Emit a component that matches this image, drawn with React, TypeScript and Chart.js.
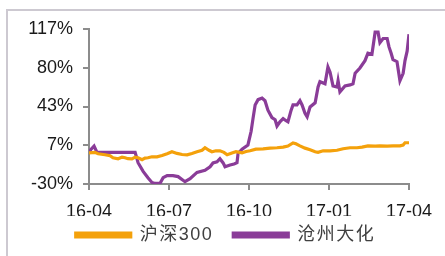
import React, { useEffect, useRef } from "react";
import { Chart, registerables } from "chart.js";

Chart.register(...registerables);

const seriesNames = ["沪深300", "沧州大化"];
const xTickLabels = ["16-04", "16-07", "16-10", "17-01", "17-04"];
const xTickValues = [0, 3, 6, 9, 12];
const yTickLabels = ["-30%", "7%", "43%", "80%", "117%"];
const yTickValues = [-30, 6.75, 43.5, 80.25, 117];

// months since 2016-04
const hs300X = [0, 0.22, 0.34, 0.6, 0.79, 0.9, 1.09, 1.24, 1.35, 1.46, 1.61, 1.73, 1.84, 1.99, 2.1, 2.21, 2.36, 2.55, 2.74, 2.93, 3.11, 3.3, 3.49, 3.68, 3.86, 4.05, 4.24, 4.35, 4.5, 4.61, 4.76, 4.91, 5.06, 5.18, 5.36, 5.51, 5.74, 5.89, 6.04, 6.26, 6.53, 6.79, 7.05, 7.28, 7.46, 7.65, 7.76, 7.91, 8.1, 8.29, 8.48, 8.59, 8.78, 9.04, 9.3, 9.53, 9.79, 10.05, 10.24, 10.46, 10.73, 10.91, 11.18, 11.4, 11.66, 11.78, 11.85, 12.0];
const hs300Y = [-0.4, 0, -1.3, -2.3, -3.2, -5.1, -6.1, -4.5, -5.1, -6, -6.1, -4.5, -5.1, -7, -5.5, -5.1, -4.2, -4.2, -3, -1.3, 0.6, -1, -2, -2.3, -1, 0.6, 2, 4.4, 2, 0.6, 1.5, 1.5, 0, -2.3, -0.5, 0.6, -0.4, 0.8, 1.5, 3, 3.4, 4, 4.4, 5, 6, 9, 8.1, 6.2, 4, 2.5, 0.6, 0, 1.5, 1.5, 2, 3.4, 4.4, 4.4, 5, 6.2, 6, 6.2, 6, 6.2, 6.2, 7, 9.1, 9.1];

const czdhX = [0, 0.08, 0.19, 0.3, 0.41, 0.7, 1.0, 1.3, 1.6, 1.73, 1.84, 2.03, 2.21, 2.36, 2.48, 2.66, 2.78, 2.93, 3.15, 3.34, 3.6, 3.79, 4.05, 4.35, 4.54, 4.65, 4.8, 4.91, 5.03, 5.1, 5.29, 5.44, 5.55, 5.59, 5.74, 5.96, 6.08, 6.15, 6.23, 6.34, 6.49, 6.6, 6.71, 6.86, 6.98, 7.05, 7.16, 7.28, 7.39, 7.46, 7.58, 7.65, 7.8, 7.91, 7.99, 8.1, 8.18, 8.29, 8.48, 8.59, 8.66, 8.85, 8.96, 9.04, 9.15, 9.3, 9.34, 9.41, 9.6, 9.79, 9.9, 9.98, 10.16, 10.35, 10.46, 10.61, 10.73, 10.84, 10.91, 11.03, 11.18, 11.25, 11.33, 11.4, 11.55, 11.66, 11.78, 11.85, 11.93, 12.0];
const czdhY = [0, 3, 6, 0, 0, 0, 0, 0, 0, 0, -9.8, -18, -24, -28.5, -29.5, -29.5, -24, -22, -22, -23, -27.8, -25, -19, -17, -13.6, -10, -9, -6, -10, -13.6, -12, -11, -9.8, -1, 3, 7, 20, 32, 45, 50, 51.5, 49, 40, 33, 31, 25, 29, 32, 30, 29, 40, 45, 45, 49, 45, 37, 33.7, 43, 47, 62, 67, 65, 81, 76, 63, 62, 68, 57.4, 63, 64, 65, 75, 80, 87, 94, 93, 114, 114, 104, 108, 108, 100, 94, 88, 86, 68, 75, 87, 96, 112];

const colors = ["#F4A10B", "#8A3C98"];
const axisColor = "#8c8c8c";
const fontFamily = "'Liberation Sans', Arial, 'Noto Sans CJK SC', sans-serif";
const legendShiftX = 21;
const legendShiftY = -10;

const legendShiftPlugin = {
  id: "legendShift",
  afterLayout(chart: any) {
    const lg = chart.legend;
    if (lg) {
      lg.left += legendShiftX;
      lg.right += legendShiftX;
      lg.top += legendShiftY;
      lg.bottom += legendShiftY;
    }
  },
};

export default function App() {
  const ref = useRef<HTMLCanvasElement>(null);
  useEffect(() => {
    document.body.style.margin = "0";
    const toPts = (xs: number[], ys: number[]) => xs.map((x, i) => ({ x, y: ys[i] }));
    const chart = new Chart(ref.current!, {
      type: "line",
      data: {
        datasets: [
          {
            label: seriesNames[0],
            data: toPts(hs300X, hs300Y),
            borderColor: colors[0],
            backgroundColor: colors[0],
            borderWidth: 3.2,
            pointRadius: 0,
            tension: 0,
          },
          {
            label: seriesNames[1],
            data: toPts(czdhX, czdhY),
            borderColor: colors[1],
            backgroundColor: colors[1],
            borderWidth: 3.2,
            pointRadius: 0,
            tension: 0,
          },
        ],
      },
      plugins: [legendShiftPlugin],
      options: {
        animation: false,
        responsive: false,
        maintainAspectRatio: false,
        layout: { padding: { top: 29, right: 36, left: 0, bottom: 2 } },
        plugins: {
          tooltip: { enabled: false },
          legend: {
            position: "bottom",
            labels: {
              boxWidth: 55,
              boxHeight: 4,
              padding: 20,
              color: "#404040",
              font: { size: 18, family: fontFamily },
            },
          },
        },
        scales: {
          x: {
            type: "linear",
            min: 0,
            max: 12,
            afterBuildTicks: (s: any) => {
              s.ticks = xTickValues.map((v) => ({ value: v }));
            },
            afterFit: (s: any) => {
              s.height = 32;
            },
            ticks: {
              callback: (_v: any, i: number) => xTickLabels[i],
              color: "#1a1a1a",
              font: { size: 18, family: fontFamily },
              padding: 11,
              maxRotation: 0,
            },
            grid: { drawOnChartArea: false, drawTicks: true, tickLength: 6, color: axisColor, lineWidth: 2 },
            border: { display: true, color: axisColor, width: 2 },
          },
          y: {
            min: -30,
            max: 117,
            afterBuildTicks: (s: any) => {
              s.ticks = yTickValues.map((v) => ({ value: v }));
            },
            afterFit: (s: any) => {
              s.width = 89;
            },
            ticks: {
              callback: (_v: any, i: number) => yTickLabels[i],
              color: "#1a1a1a",
              font: { size: 18, family: fontFamily },
              padding: 10,
            },
            grid: { drawOnChartArea: false, drawTicks: true, tickLength: 6, color: axisColor, lineWidth: 2 },
            border: { display: true, color: axisColor, width: 2 },
          },
        },
      },
    } as any);
    const lg: any = chart.legend;
    if (lg) {
      const ctx: any = chart.ctx;
      const origFit = lg.fit.bind(lg);
      const origDraw = lg.draw.bind(lg);
      lg.fit = () => {
        ctx.letterSpacing = "1.5px";
        origFit();
        ctx.letterSpacing = "0px";
        lg.height = 38;
      };
      lg.draw = () => {
        ctx.letterSpacing = "1.5px";
        origDraw();
        ctx.letterSpacing = "0px";
      };
      chart.update();
    }
    return () => chart.destroy();
  }, []);
  return (
    <div style={{ position: "relative", width: 445, height: 256, overflow: "hidden", background: "#fff" }}>
      <div
        style={{
          position: "absolute",
          left: 6,
          top: 9,
          width: 600,
          height: 400,
          borderTop: "2px solid #cdc9d1",
          borderLeft: "2px solid #cdc9d1",
        }}
      />
      <canvas ref={ref} width={445} height={256} style={{ position: "absolute", left: 0, top: 0 }} />
    </div>
  );
}
